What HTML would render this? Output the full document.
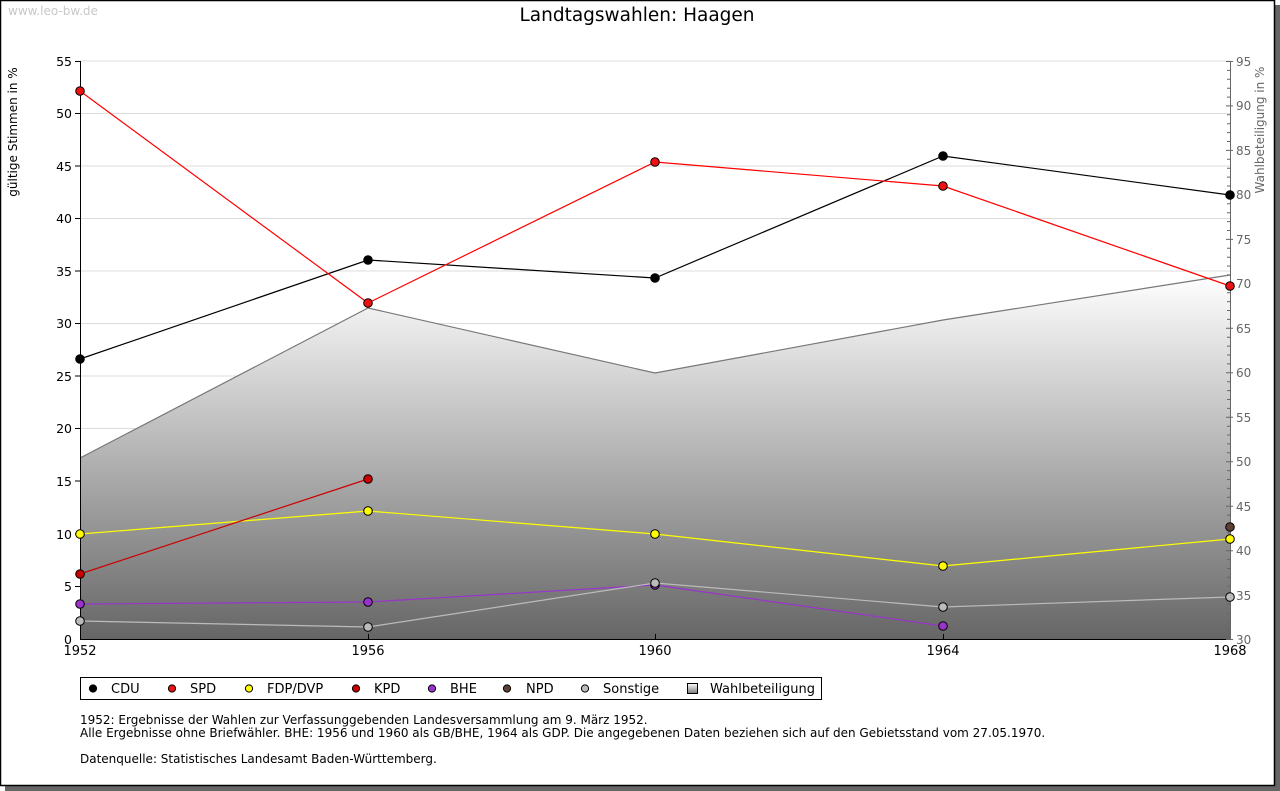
<!DOCTYPE html>
<html><head><meta charset="utf-8"><style>
html,body{margin:0;padding:0;background:#fff;}
svg{display:block;font-family:"DejaVu Sans","Liberation Sans",sans-serif;}
</style></head><body>
<svg width="1280" height="791" viewBox="0 0 1280 791" xmlns="http://www.w3.org/2000/svg">
<defs>
<linearGradient id="g" x1="0" y1="275" x2="0" y2="639" gradientUnits="userSpaceOnUse">
<stop offset="0" stop-color="#ffffff"/>
<stop offset="1" stop-color="#666666"/>
</linearGradient>
<linearGradient id="lg" x1="0" y1="0" x2="0" y2="1">
<stop offset="0" stop-color="#fff"/><stop offset="1" stop-color="#777"/>
</linearGradient>
</defs>
<rect x="5" y="5" width="1275" height="786" fill="#666"/>
<rect x="0.5" y="0.5" width="1274" height="785" fill="#fff" stroke="#000" stroke-width="1.5"/>
<text x="8" y="15" font-size="12" fill="#c8c8c8">www.leo-bw.de</text>
<text x="637" y="21" font-size="18.5" text-anchor="middle" fill="#000">Landtagswahlen: Haagen</text>

<!-- gridlines -->
<g stroke="#dcdcdc" stroke-width="1">
<line x1="80" x2="1230" y1="61" y2="61"/>
<line x1="80" x2="1230" y1="113.5" y2="113.5"/>
<line x1="80" x2="1230" y1="166" y2="166"/>
<line x1="80" x2="1230" y1="218.5" y2="218.5"/>
<line x1="80" x2="1230" y1="271" y2="271"/>
<line x1="80" x2="1230" y1="323.5" y2="323.5"/>
<line x1="80" x2="1230" y1="376" y2="376"/>
<line x1="80" x2="1230" y1="428.5" y2="428.5"/>
<line x1="80" x2="1230" y1="481" y2="481"/>
<line x1="80" x2="1230" y1="534" y2="534"/>
<line x1="80" x2="1230" y1="586.5" y2="586.5"/>
</g>

<!-- Wahlbeteiligung area -->
<polygon points="80,639 80,458 368,308 655,373 943,320 1230,275 1230,639" fill="url(#g)"/>
<polyline points="80,458 368,308 655,373 943,320 1230,275" fill="none" stroke="#777" stroke-width="1.2"/>

<!-- left axis -->
<g stroke="#000" stroke-width="1">
<line x1="80.5" y1="61" x2="80.5" y2="639"/>
<line x1="80" y1="639.5" x2="1230" y2="639.5"/>
<line x1="75" x2="80" y1="61.5" y2="61.5"/>
<line x1="75" x2="80" y1="113.5" y2="113.5"/>
<line x1="75" x2="80" y1="166" y2="166"/>
<line x1="75" x2="80" y1="218.5" y2="218.5"/>
<line x1="75" x2="80" y1="271" y2="271"/>
<line x1="75" x2="80" y1="323.5" y2="323.5"/>
<line x1="75" x2="80" y1="376" y2="376"/>
<line x1="75" x2="80" y1="428.5" y2="428.5"/>
<line x1="75" x2="80" y1="481" y2="481"/>
<line x1="75" x2="80" y1="534" y2="534"/>
<line x1="75" x2="80" y1="586.5" y2="586.5"/>
<line x1="368.5" x2="368.5" y1="634" y2="639"/>
<line x1="655.5" x2="655.5" y1="634" y2="639"/>
<line x1="943.5" x2="943.5" y1="634" y2="639"/>
</g>
<g font-size="12.5" fill="#000" text-anchor="end">
<text x="72" y="66">55</text>
<text x="72" y="118">50</text>
<text x="72" y="171">45</text>
<text x="72" y="223">40</text>
<text x="72" y="276">35</text>
<text x="72" y="328">30</text>
<text x="72" y="381">25</text>
<text x="72" y="433">20</text>
<text x="72" y="486">15</text>
<text x="72" y="539">10</text>
<text x="72" y="591">5</text>
<text x="72" y="644">0</text>
</g>
<g font-size="13" fill="#000" text-anchor="middle">
<text x="80" y="655">1952</text>
<text x="368" y="655">1956</text>
<text x="655" y="655">1960</text>
<text x="943" y="655">1964</text>
<text x="1230" y="655">1968</text>
</g>
<text transform="translate(17,132) rotate(-90)" font-size="12" text-anchor="middle" fill="#000">gültige Stimmen in %</text>

<!-- right axis -->
<g stroke="#666" stroke-width="1">
<line x1="1230.5" y1="61" x2="1230.5" y2="639"/>
</g>
<g stroke="#666" stroke-width="1">
<path d="M1226 61.5h7M1227 70.4h4M1227 79.3h4M1227 88.2h4M1227 97.1h4M1226 105.9h7M1227 114.8h4M1227 123.7h4M1227 132.6h4M1227 141.5h4M1226 150.4h7M1227 159.3h4M1227 168.2h4M1227 177.1h4M1227 186h4M1226 194.9h7M1227 203.8h4M1227 212.7h4M1227 221.6h4M1227 230.5h4M1226 239.4h7M1227 248.3h4M1227 257.2h4M1227 266h4M1227 274.9h4M1226 283.8h7M1227 292.7h4M1227 301.6h4M1227 310.5h4M1227 319.4h4M1226 328.3h7M1227 337.2h4M1227 346.1h4M1227 355h4M1227 363.9h4M1226 372.8h7M1227 381.7h4M1227 390.6h4M1227 399.5h4M1227 408.4h4M1226 417.3h7M1227 426.2h4M1227 435h4M1227 443.9h4M1227 452.8h4M1226 461.7h7M1227 470.6h4M1227 479.5h4M1227 488.4h4M1227 497.3h4M1226 506.2h7M1227 515.1h4M1227 524h4M1227 532.9h4M1227 541.8h4M1226 550.7h7M1227 559.6h4M1227 568.5h4M1227 577.4h4M1227 586.3h4M1226 595.2h7M1227 604.1h4M1227 613h4M1227 621.9h4M1227 630.8h4M1226 639.5h7"/>
</g>
<g font-size="12" fill="#666" text-anchor="start">
<text x="1236" y="66">95</text>
<text x="1236" y="110">90</text>
<text x="1236" y="155">85</text>
<text x="1236" y="199">80</text>
<text x="1236" y="244">75</text>
<text x="1236" y="288">70</text>
<text x="1236" y="333">65</text>
<text x="1236" y="377">60</text>
<text x="1236" y="422">55</text>
<text x="1236" y="466">50</text>
<text x="1236" y="511">45</text>
<text x="1236" y="555">40</text>
<text x="1236" y="600">35</text>
<text x="1236" y="644">30</text>
</g>
<text transform="translate(1264,130) rotate(-90)" font-size="12" text-anchor="middle" fill="#666">Wahlbeteiligung in %</text>

<!-- series lines -->
<g fill="none" stroke-width="1.2">
<polyline points="80,359 368,260 655,278 943,156 1230,195" stroke="#000"/>
<polyline points="80,91 368,303 655,162 943,186 1230,286" stroke="#f00"/>
<polyline points="80,534 368,511 655,534 943,566 1230,539" stroke="#ffff00"/>
<polyline points="80,574 368,479" stroke="#cc0000"/>
<polyline points="80,604 368,602 655,585 943,626" stroke="#9933cc"/>
<polyline points="80,621 368,627 655,583 943,607 1230,597" stroke="#bbbbbb"/>
</g>
<!-- markers -->
<g stroke="#000" stroke-width="1">
<g fill="#000">
<circle cx="80" cy="359" r="4.3"/><circle cx="368" cy="260" r="4.3"/><circle cx="655" cy="278" r="4.3"/><circle cx="943" cy="156" r="4.3"/><circle cx="1230" cy="195" r="4.3"/>
</g>
<g fill="#ee1111">
<circle cx="80" cy="91" r="4.3"/><circle cx="368" cy="303" r="4.3"/><circle cx="655" cy="162" r="4.3"/><circle cx="943" cy="186" r="4.3"/><circle cx="1230" cy="286" r="4.3"/>
</g>
<g fill="#ffff00">
<circle cx="80" cy="534" r="4.3"/><circle cx="368" cy="511" r="4.3"/><circle cx="655" cy="534" r="4.3"/><circle cx="943" cy="566" r="4.3"/><circle cx="1230" cy="539" r="4.3"/>
</g>
<g fill="#cc0000">
<circle cx="80" cy="574" r="4.3"/><circle cx="368" cy="479" r="4.3"/>
</g>
<g fill="#9933cc">
<circle cx="80" cy="604" r="4.3"/><circle cx="368" cy="602" r="4.3"/><circle cx="655" cy="585" r="4.3"/><circle cx="943" cy="626" r="4.3"/>
</g>
<g fill="#5c4033">
<circle cx="1230" cy="527" r="4.3"/>
</g>
<g fill="#bbbbbb">
<circle cx="80" cy="621" r="4.3"/><circle cx="368" cy="627" r="4.3"/><circle cx="655" cy="583" r="4.3"/><circle cx="943" cy="607" r="4.3"/><circle cx="1230" cy="597" r="4.3"/>
</g>
</g>

<!-- legend -->
<rect x="80.5" y="677.5" width="741" height="22" fill="#fff" stroke="#000" stroke-width="1"/>
<g stroke="#000" stroke-width="1">
<circle cx="93" cy="688.5" r="3.6" fill="#000"/>
<circle cx="172" cy="688.5" r="3.6" fill="#ee1111"/>
<circle cx="249" cy="688.5" r="3.6" fill="#ffff00"/>
<circle cx="356" cy="688.5" r="3.6" fill="#cc0000"/>
<circle cx="432" cy="688.5" r="3.6" fill="#9933cc"/>
<circle cx="507" cy="688.5" r="3.6" fill="#5c4033"/>
<circle cx="585" cy="688.5" r="3.6" fill="#bbbbbb"/>
</g>
<rect x="687.5" y="683.5" width="10" height="10" fill="url(#lg)" stroke="#000" stroke-width="1"/>
<g font-size="13" fill="#000">
<text x="111" y="693">CDU</text>
<text x="190" y="693">SPD</text>
<text x="267" y="693">FDP/DVP</text>
<text x="374" y="693">KPD</text>
<text x="450" y="693">BHE</text>
<text x="526" y="693">NPD</text>
<text x="603" y="693">Sonstige</text>
<text x="710" y="693">Wahlbeteiligung</text>
</g>

<g font-size="12" fill="#000">
<text x="80" y="724">1952: Ergebnisse der Wahlen zur Verfassunggebenden Landesversammlung am 9. März 1952.</text>
<text x="80" y="737">Alle Ergebnisse ohne Briefwähler. BHE: 1956 und 1960 als GB/BHE, 1964 als GDP. Die angegebenen Daten beziehen sich auf den Gebietsstand vom 27.05.1970.</text>
<text x="80" y="763">Datenquelle: Statistisches Landesamt Baden-Württemberg.</text>
</g>
</svg>
</body></html>
